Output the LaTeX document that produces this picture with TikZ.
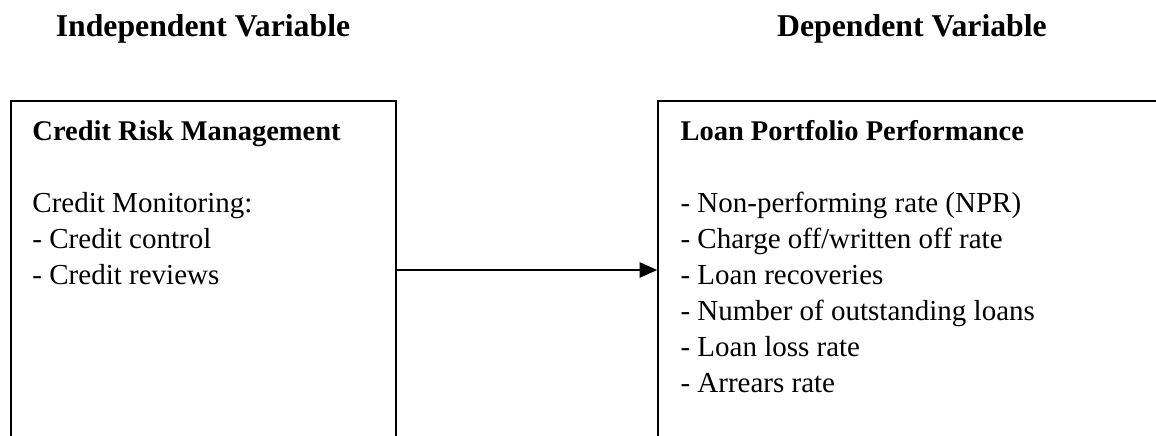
\documentclass[tikz,border=0pt]{standalone}
\usepackage{fontspec}
\setmainfont{Liberation Serif}
\usetikzlibrary{positioning, arrows.meta}
\tikzset{
varbox/.style={draw, line width=0.6pt, inner sep=0pt}, % frame round each variable block
vartitle/.style={font=\fontsize{12.7}{14.4}\selectfont\bfseries, anchor=base}, % headings above the blocks
blockhead/.style={font=\fontsize{11.4}{14.4}\selectfont\bfseries, anchor=base west, inner sep=0pt},
blocktext/.style={font=\fontsize{11.6}{14.4}\selectfont, align=left, anchor=base west, inner sep=0pt}, % placed by its last line
link/.style={-{Triangle[length=7pt, width=6pt]}, line width=0.8pt}, % the arrow between blocks
}
\begin{document}
\begin{tikzpicture}[x=0.4pt, y=-0.4pt]
    \clip (0,0) rectangle (1156,435);

    % headings
    \node[vartitle] (iv) at (203,36) {Independent Variable};
    \node[vartitle] (dv) at (912,36) {Dependent Variable};

    % the two blocks (they run off the page at the bottom)
    \node[varbox, minimum width=154pt, minimum height=135.2pt] (crm) at (203.5,270) {};
    \node[varbox, minimum width=204.8pt, minimum height=135.2pt] (lpp) at (914,270) {};

    % contents of the blocks
    \node[blockhead] (crmhead) at (32,140) {Credit Risk Management};
    \node[blocktext] (crmlist) at (32,284) {Credit Monitoring:\\- Credit control\\- Credit reviews};
    \node[blockhead] (lpphead) at (680,140) {Loan Portfolio Performance};
    \node[blocktext] (lpplist) at (680,392) {- Non-performing rate (NPR)\\- Charge off/written off rate\\- Loan recoveries\\- Number of outstanding loans\\- Loan loss rate\\- Arrears rate};

    \draw[link] (crm) -- (lpp);
\end{tikzpicture}
\end{document}
